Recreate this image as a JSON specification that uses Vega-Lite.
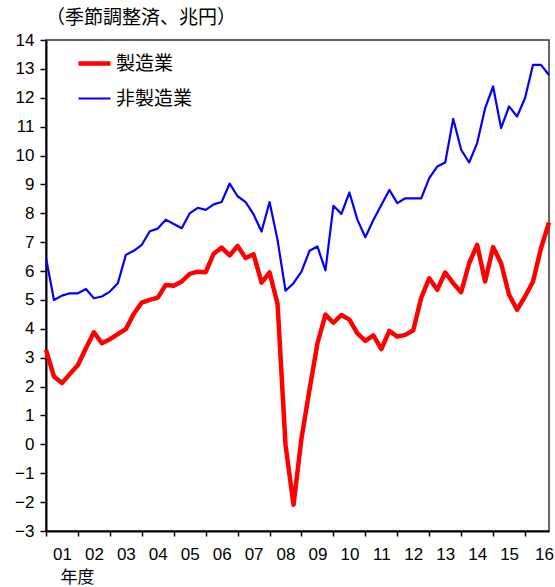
{
  "$schema": "https://vega.github.io/schema/vega-lite/v6.json",
  "autosize": "none",
  "width": 503,
  "height": 491,
  "padding": {"left": 46, "top": 40, "right": 6, "bottom": 56},
  "background": "white",
  "config": {
    "view": {"stroke": "#333333", "strokeWidth": 1.5},
    "axis": {"grid": false, "domainColor": "#000000", "domainWidth": 2, "tickColor": "#000000", "tickWidth": 1.5, "labelColor": "#000000", "labelFont": "Liberation Sans", "titleColor": "#000000"}
  },
  "title": {"text": "（季節調整済、兆円）", "anchor": "start", "frame": "group", "font": "Noto Sans CJK JP", "fontSize": 19, "fontWeight": "normal", "color": "#000000", "offset": 3, "dx": 0},
  "datasets": {
    "profits": [
      {"fy": 2001.00, "series": "製造業", "v": 3.27}, {"fy": 2001.25, "series": "製造業", "v": 2.35}, {"fy": 2001.50, "series": "製造業", "v": 2.12}, {"fy": 2001.75, "series": "製造業", "v": 2.44},
      {"fy": 2002.00, "series": "製造業", "v": 2.75}, {"fy": 2002.25, "series": "製造業", "v": 3.33}, {"fy": 2002.50, "series": "製造業", "v": 3.88}, {"fy": 2002.75, "series": "製造業", "v": 3.50},
      {"fy": 2003.00, "series": "製造業", "v": 3.64}, {"fy": 2003.25, "series": "製造業", "v": 3.82}, {"fy": 2003.50, "series": "製造業", "v": 3.99}, {"fy": 2003.75, "series": "製造業", "v": 4.52},
      {"fy": 2004.00, "series": "製造業", "v": 4.91}, {"fy": 2004.25, "series": "製造業", "v": 5.00}, {"fy": 2004.50, "series": "製造業", "v": 5.08}, {"fy": 2004.75, "series": "製造業", "v": 5.52},
      {"fy": 2005.00, "series": "製造業", "v": 5.49}, {"fy": 2005.25, "series": "製造業", "v": 5.64}, {"fy": 2005.50, "series": "製造業", "v": 5.90}, {"fy": 2005.75, "series": "製造業", "v": 5.98},
      {"fy": 2006.00, "series": "製造業", "v": 5.96}, {"fy": 2006.25, "series": "製造業", "v": 6.60}, {"fy": 2006.50, "series": "製造業", "v": 6.81}, {"fy": 2006.75, "series": "製造業", "v": 6.54},
      {"fy": 2007.00, "series": "製造業", "v": 6.87}, {"fy": 2007.25, "series": "製造業", "v": 6.45}, {"fy": 2007.50, "series": "製造業", "v": 6.58}, {"fy": 2007.75, "series": "製造業", "v": 5.60},
      {"fy": 2008.00, "series": "製造業", "v": 5.95}, {"fy": 2008.25, "series": "製造業", "v": 4.87}, {"fy": 2008.50, "series": "製造業", "v": -0.02}, {"fy": 2008.75, "series": "製造業", "v": -2.09},
      {"fy": 2009.00, "series": "製造業", "v": 0.21}, {"fy": 2009.25, "series": "製造業", "v": 1.89}, {"fy": 2009.50, "series": "製造業", "v": 3.50}, {"fy": 2009.75, "series": "製造業", "v": 4.49},
      {"fy": 2010.00, "series": "製造業", "v": 4.21}, {"fy": 2010.25, "series": "製造業", "v": 4.48}, {"fy": 2010.50, "series": "製造業", "v": 4.32}, {"fy": 2010.75, "series": "製造業", "v": 3.84},
      {"fy": 2011.00, "series": "製造業", "v": 3.58}, {"fy": 2011.25, "series": "製造業", "v": 3.77}, {"fy": 2011.50, "series": "製造業", "v": 3.30}, {"fy": 2011.75, "series": "製造業", "v": 3.93},
      {"fy": 2012.00, "series": "製造業", "v": 3.73}, {"fy": 2012.25, "series": "製造業", "v": 3.79}, {"fy": 2012.50, "series": "製造業", "v": 3.95}, {"fy": 2012.75, "series": "製造業", "v": 5.08},
      {"fy": 2013.00, "series": "製造業", "v": 5.75}, {"fy": 2013.25, "series": "製造業", "v": 5.35}, {"fy": 2013.50, "series": "製造業", "v": 5.95}, {"fy": 2013.75, "series": "製造業", "v": 5.58},
      {"fy": 2014.00, "series": "製造業", "v": 5.27}, {"fy": 2014.25, "series": "製造業", "v": 6.27}, {"fy": 2014.50, "series": "製造業", "v": 6.91}, {"fy": 2014.75, "series": "製造業", "v": 5.64},
      {"fy": 2015.00, "series": "製造業", "v": 6.83}, {"fy": 2015.25, "series": "製造業", "v": 6.27}, {"fy": 2015.50, "series": "製造業", "v": 5.18}, {"fy": 2015.75, "series": "製造業", "v": 4.66},
      {"fy": 2016.00, "series": "製造業", "v": 5.12}, {"fy": 2016.25, "series": "製造業", "v": 5.64}, {"fy": 2016.50, "series": "製造業", "v": 6.79}, {"fy": 2016.75, "series": "製造業", "v": 7.68},
      {"fy": 2001.00, "series": "非製造業", "v": 6.45}, {"fy": 2001.25, "series": "非製造業", "v": 5.00}, {"fy": 2001.50, "series": "非製造業", "v": 5.15}, {"fy": 2001.75, "series": "非製造業", "v": 5.23},
      {"fy": 2002.00, "series": "非製造業", "v": 5.23}, {"fy": 2002.25, "series": "非製造業", "v": 5.38}, {"fy": 2002.50, "series": "非製造業", "v": 5.06}, {"fy": 2002.75, "series": "非製造業", "v": 5.12},
      {"fy": 2003.00, "series": "非製造業", "v": 5.29}, {"fy": 2003.25, "series": "非製造業", "v": 5.58}, {"fy": 2003.50, "series": "非製造業", "v": 6.56}, {"fy": 2003.75, "series": "非製造業", "v": 6.70},
      {"fy": 2004.00, "series": "非製造業", "v": 6.91}, {"fy": 2004.25, "series": "非製造業", "v": 7.38}, {"fy": 2004.50, "series": "非製造業", "v": 7.47}, {"fy": 2004.75, "series": "非製造業", "v": 7.78},
      {"fy": 2005.00, "series": "非製造業", "v": 7.63}, {"fy": 2005.25, "series": "非製造業", "v": 7.48}, {"fy": 2005.50, "series": "非製造業", "v": 8.00}, {"fy": 2005.75, "series": "非製造業", "v": 8.19},
      {"fy": 2006.00, "series": "非製造業", "v": 8.12}, {"fy": 2006.25, "series": "非製造業", "v": 8.31}, {"fy": 2006.50, "series": "非製造業", "v": 8.39}, {"fy": 2006.75, "series": "非製造業", "v": 9.03},
      {"fy": 2007.00, "series": "非製造業", "v": 8.59}, {"fy": 2007.25, "series": "非製造業", "v": 8.39}, {"fy": 2007.50, "series": "非製造業", "v": 7.96}, {"fy": 2007.75, "series": "非製造業", "v": 7.37},
      {"fy": 2008.00, "series": "非製造業", "v": 8.39}, {"fy": 2008.25, "series": "非製造業", "v": 7.08}, {"fy": 2008.50, "series": "非製造業", "v": 5.32}, {"fy": 2008.75, "series": "非製造業", "v": 5.58},
      {"fy": 2009.00, "series": "非製造業", "v": 5.98}, {"fy": 2009.25, "series": "非製造業", "v": 6.70}, {"fy": 2009.50, "series": "非製造業", "v": 6.85}, {"fy": 2009.75, "series": "非製造業", "v": 6.02},
      {"fy": 2010.00, "series": "非製造業", "v": 8.26}, {"fy": 2010.25, "series": "非製造業", "v": 7.98}, {"fy": 2010.50, "series": "非製造業", "v": 8.72}, {"fy": 2010.75, "series": "非製造業", "v": 7.78},
      {"fy": 2011.00, "series": "非製造業", "v": 7.17}, {"fy": 2011.25, "series": "非製造業", "v": 7.77}, {"fy": 2011.50, "series": "非製造業", "v": 8.29}, {"fy": 2011.75, "series": "非製造業", "v": 8.81},
      {"fy": 2012.00, "series": "非製造業", "v": 8.35}, {"fy": 2012.25, "series": "非製造業", "v": 8.52}, {"fy": 2012.50, "series": "非製造業", "v": 8.52}, {"fy": 2012.75, "series": "非製造業", "v": 8.52},
      {"fy": 2013.00, "series": "非製造業", "v": 9.22}, {"fy": 2013.25, "series": "非製造業", "v": 9.62}, {"fy": 2013.50, "series": "非製造業", "v": 9.76}, {"fy": 2013.75, "series": "非製造業", "v": 11.27},
      {"fy": 2014.00, "series": "非製造業", "v": 10.20}, {"fy": 2014.25, "series": "非製造業", "v": 9.76}, {"fy": 2014.50, "series": "非製造業", "v": 10.43}, {"fy": 2014.75, "series": "非製造業", "v": 11.64},
      {"fy": 2015.00, "series": "非製造業", "v": 12.39}, {"fy": 2015.25, "series": "非製造業", "v": 10.95}, {"fy": 2015.50, "series": "非製造業", "v": 11.70}, {"fy": 2015.75, "series": "非製造業", "v": 11.35},
      {"fy": 2016.00, "series": "非製造業", "v": 11.99}, {"fy": 2016.25, "series": "非製造業", "v": 13.14}, {"fy": 2016.50, "series": "非製造業", "v": 13.14}, {"fy": 2016.75, "series": "非製造業", "v": 12.79}
    ]
  },
  "data": {"name": "profits"},
  "encoding": {
    "x": {
      "field": "fy", "type": "quantitative",
      "scale": {"domain": [2001, 2016.75], "nice": false, "zero": false},
      "axis": {
        "values": [2001, 2002, 2003, 2004, 2005, 2006, 2007, 2008, 2009, 2010, 2011, 2012, 2013, 2014, 2015, 2016],
        "labelExpr": "substring(toString(datum.value), 2)",
        "labelOffset": {"condition": {"test": "datum.value == 2016", "value": 19}, "value": 16},
        "labelFontSize": 17, "labelPadding": 10, "tickSize": 5,
        "labelFlush": false, "labelOverlap": false, "labelBound": false,
        "title": "年度", "titleFont": "Noto Sans CJK JP", "titleFontSize": 17, "titleFontWeight": "normal",
        "titleX": 31, "titleY": 46, "titleAlign": "center", "titleBaseline": "middle", "titleAnchor": null
      }
    },
    "y": {
      "field": "v", "type": "quantitative",
      "scale": {"domain": [-3, 14], "nice": false, "zero": false},
      "axis": {
        "values": [-3, -2, -1, 0, 1, 2, 3, 4, 5, 6, 7, 8, 9, 10, 11, 12, 13, 14],
        "labelFontSize": 17, "tickSize": 6, "labelPadding": 6, "title": null, "labelFlush": false, "labelOverlap": false
      }
    }
  },
  "layer": [
    {
      "mark": {"type": "rule", "color": "#000000", "strokeWidth": 1.5},
      "data": {"values": [{}]},
      "encoding": {"x": null, "y": {"datum": 0}}
    },
    {
      "mark": {"type": "line", "strokeJoin": "round"},
      "encoding": {
        "color": {
          "field": "series", "type": "nominal",
          "scale": {"domain": ["製造業", "非製造業"], "range": ["#ff0000", "#0000ff"]},
          "legend": {
            "title": null, "orient": "none", "legendX": 30, "legendY": 5,
            "symbolType": "stroke", "symbolSize": 1024, "rowPadding": 7,
            "labelFont": "Noto Sans CJK JP", "labelFontSize": 19, "labelColor": "#000000", "labelOffset": 3
          }
        },
        "strokeWidth": {
          "field": "series", "type": "nominal",
          "scale": {"domain": ["製造業", "非製造業"], "range": [4.5, 2.2]},
          "legend": {
            "title": null, "orient": "none", "legendX": 30, "legendY": 5,
            "symbolType": "stroke", "symbolSize": 1024, "rowPadding": 7,
            "labelFont": "Noto Sans CJK JP", "labelFontSize": 19, "labelColor": "#000000", "labelOffset": 3
          }
        }
      }
    }
  ]
}
